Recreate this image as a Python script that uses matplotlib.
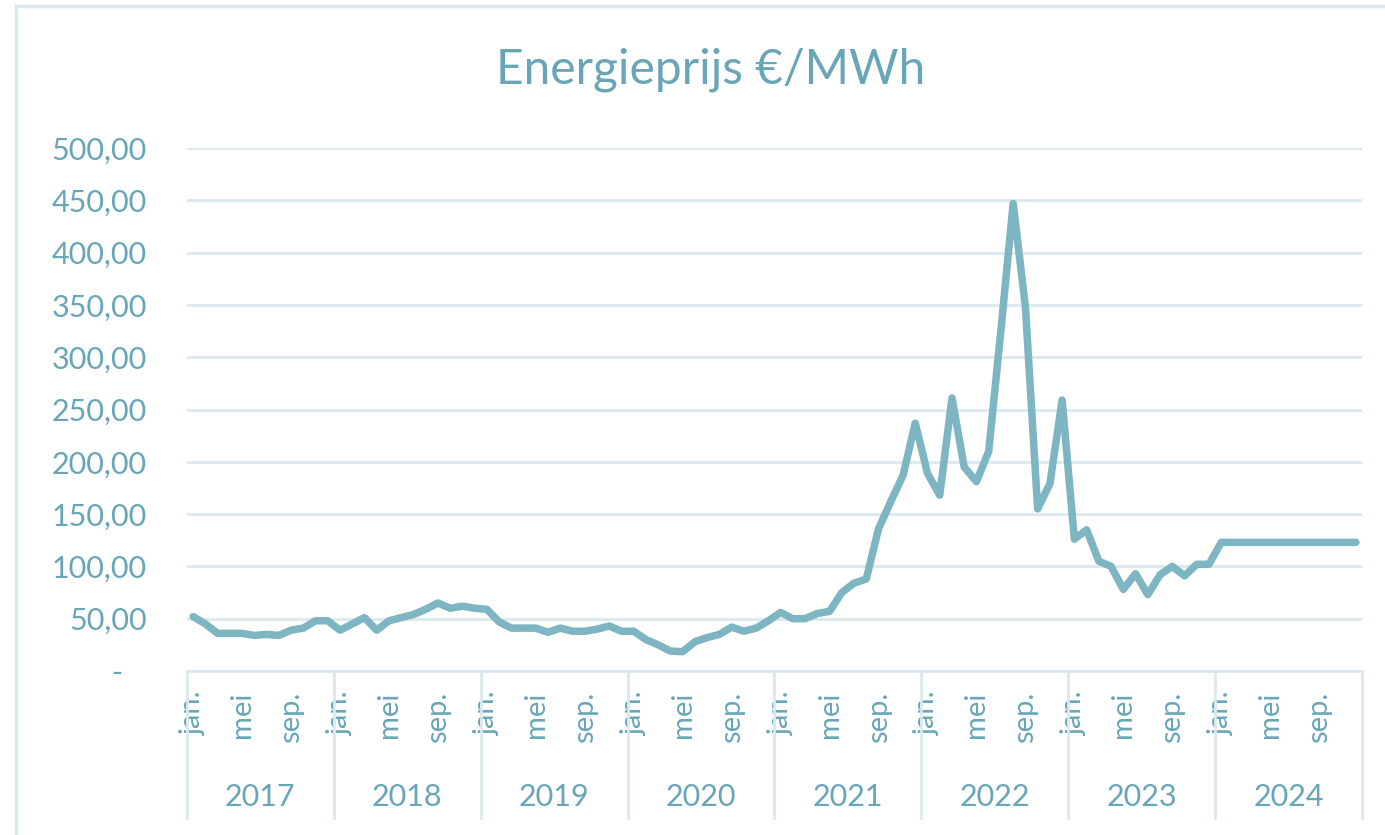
import numpy as np
import matplotlib
matplotlib.use('Agg')
import matplotlib.pyplot as plt
from matplotlib.lines import Line2D

# monthly energy price, jan 2017 .. dec 2024
years = ['2017', '2018', '2019', '2020', '2021', '2022', '2023', '2024']
month_labels = ['jan.', 'mei', 'sep.']
month_ticks = [0, 4, 8]

price_2017 = [52, 45, 36, 36, 36, 34, 35, 34, 39, 41, 48, 48]
price_2018 = [39, 45, 51, 39, 48, 51, 54, 59, 65, 60, 62, 60]
price_2019 = [59, 47, 41, 41, 41, 37, 41, 38, 38, 40, 43, 38]
price_2020 = [38, 30, 25, 19, 18.5, 28, 32, 35, 42, 38, 41, 48]
price_2021 = [56, 50, 50, 55, 57, 75, 84, 88, 136, 162, 187, 237]
price_2022 = [189, 168, 261, 195, 181, 210, 326, 447, 348, 155, 179, 259]
price_2023 = [126, 135, 105, 100, 78, 93, 73, 92, 100, 91, 102, 102]
price_2024 = [123, 123, 123, 123, 123, 123, 123, 123, 123, 123, 123, 123]

price = np.array(price_2017 + price_2018 + price_2019 + price_2020 +
                 price_2021 + price_2022 + price_2023 + price_2024)
x = np.arange(price.size)

line_col = '#7db5c3'
text_col = '#68a6b7'
grid_col = '#dbe9ee'
font = 'Lato'

W, H = 1385, 835
fig = plt.figure(figsize=(W / 100, H / 100), dpi=100)
ax = fig.add_axes([187 / W, 1 - 671 / H, (1362 - 187) / W, (671 - 148) / H])

# chart frame (left and top edge visible)
fig.add_artist(Line2D([16 / W, 16 / W], [0, 1 - 6 / H], color=grid_col, lw=2.5))
fig.add_artist(Line2D([16 / W, 1], [1 - 6 / H, 1 - 6 / H], color=grid_col, lw=2.5))

ax.plot(x, price, color=line_col, lw=5.4, solid_joinstyle='round',
        solid_capstyle='round', zorder=3)

ax.set_xlim(-0.5, price.size - 0.5)
ax.set_ylim(0, 500)
yt = np.arange(0, 501, 50)
ax.set_yticks(yt)
ax.set_yticklabels(['-   '] + ['{:d},00'.format(v) for v in yt[1:]])
ax.yaxis.grid(True, color=grid_col, lw=2)
ax.set_axisbelow(True)
for s in ['top', 'right', 'left']:
    ax.spines[s].set_visible(False)
ax.spines['bottom'].set_color(grid_col)
ax.spines['bottom'].set_linewidth(2)
ax.tick_params(axis='y', length=0, pad=29, labelsize=22, labelcolor=text_col)
for t in ax.get_yticklabels():
    t.set_fontfamily(font)

xt = [12 * k + m for k in range(len(years)) for m in month_ticks]
ax.set_xticks(xt)
ax.set_xticklabels(month_labels * len(years), rotation=90, va='top', ha='center',
                   fontfamily=font, fontsize=21, color=text_col)
ax.tick_params(axis='x', length=0, pad=15)

# year separators and year labels below the month labels
trans = ax.get_xaxis_transform()
sep_low = -(818 - 671) / (671 - 148)
for k in range(len(years) + 1):
    ax.plot([12 * k - 0.5, 12 * k - 0.5], [0, sep_low], transform=trans,
            color=grid_col, lw=2, clip_on=False)
for k, yr in enumerate(years):
    ax.text(12 * k + 5.5, -(797 - 671) / (671 - 148), yr, transform=trans,
            ha='center', va='center', fontsize=22, color=text_col, fontfamily=font)

fig.text(711 / W, 1 - 70 / H, 'Energieprijs €/MWh', ha='center', va='center',
         fontsize=34.5, color=text_col, fontfamily=font)

fig.savefig('out.png', dpi=100)
